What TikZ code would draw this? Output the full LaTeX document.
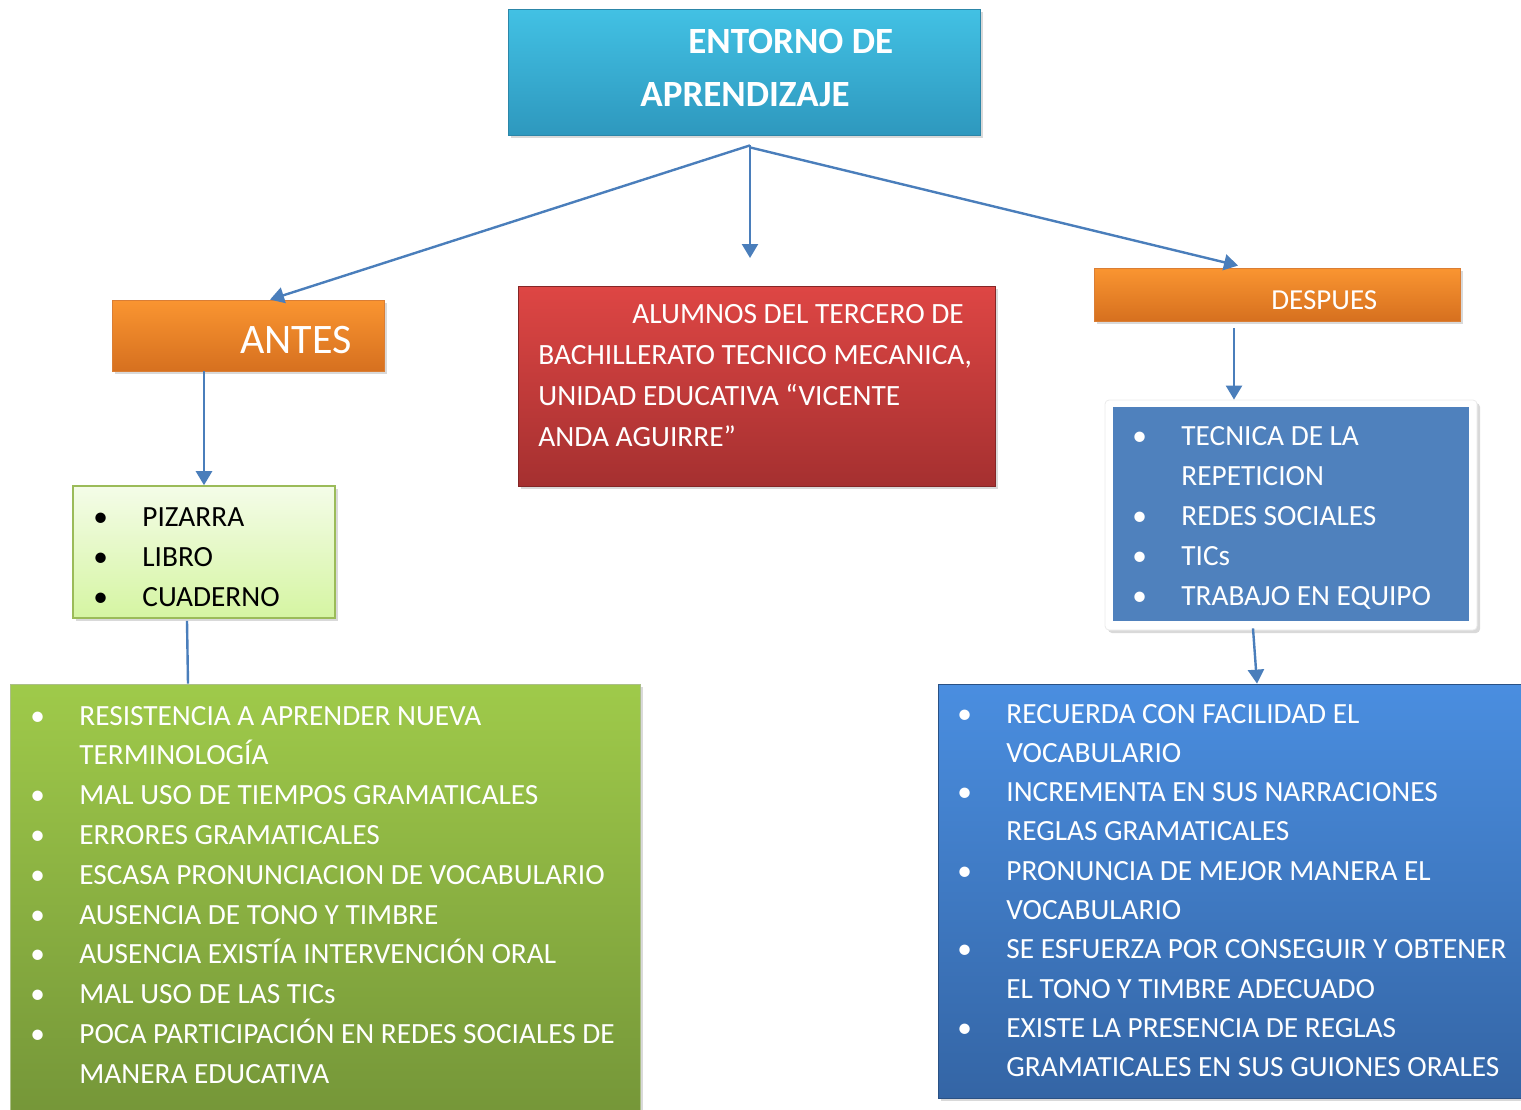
\documentclass[tikz,border=0pt]{standalone}
\usepackage{fontspec}
\setmainfont{Carlito}
\usepackage{tikz}
\usetikzlibrary{positioning,fit,shadows,arrows.meta}

\definecolor{cyantop}{HTML}{42C1E4}
\definecolor{cyanbot}{HTML}{2E98BE}
\definecolor{cyanline}{HTML}{2C86A8}
\definecolor{orangetop}{HTML}{FA9531}
\definecolor{orangebot}{HTML}{D6701F}
\definecolor{redtop}{HTML}{DE4644}
\definecolor{redbot}{HTML}{A53030}
\definecolor{lgreentop}{HTML}{F4FCE8}
\definecolor{lgreenbot}{HTML}{D5F5A2}
\definecolor{lgreenline}{HTML}{9BBB59}
\definecolor{listblue}{HTML}{4F81BD}
\definecolor{greentop}{HTML}{9FCA4A}
\definecolor{greenbot}{HTML}{749538}
\definecolor{bluetop}{HTML}{4A8EE0}
\definecolor{bluebot}{HTML}{3465A5}
\definecolor{arrowblue}{HTML}{4A7EBB}

\newcommand{\bul}{\textbullet}

\begin{document}
\begin{tikzpicture}[x=0.5pt,y=-0.5pt]

    % Styles for boxes, texts and connectors
    \tikzstyle{box} = [rectangle, inner sep=0pt, drop shadow={opacity=0.3, shadow xshift=1.5pt, shadow yshift=-1.5pt}]
    \tikzstyle{txt} = [inner sep=0pt, text=white, anchor=base west]
    \tikzstyle{listfont} = [font=\fontsize{14.65}{20}\selectfont]
    \tikzstyle{conn} = [draw=arrowblue, line width=1.2pt]
    \tikzstyle{arr} = [conn, -{Triangle[width=8pt,length=7pt]}]

    \useasboundingbox (0,0) rectangle (1521,1109);
    \clip (0,0) rectangle (1521,1109);

    % Define nodes
    \node[box, top color=cyantop, bottom color=cyanbot, draw=cyanline, fit={(508,9) (980,135)}] (entorno) {};
    \node[txt, font=\fontsize{18.5}{26.5}\selectfont\bfseries] (entornoT) at (640,53)
        {\begin{tabular}[t]{@{}l@{}}\hspace*{24pt}ENTORNO DE\\APRENDIZAJE\end{tabular}};

    \node[box, top color=orangetop, bottom color=orangebot, draw=orangebot!90, fit={(112,300) (384,371)}] (antes) {};
    \node[txt, font=\fontsize{21}{25}\selectfont] (antesT) at (240,353) {ANTES};

    \node[box, top color=redtop, bottom color=redbot, draw=redbot!80!black, fit={(518,286) (995,486)}] (alumnos) {};
    \node[txt, font=\fontsize{14.7}{20.5}\selectfont] (alumnosT) at (538,323)
        {\begin{tabular}[t]{@{}l@{}}\hspace*{47pt}ALUMNOS DEL TERCERO DE\\BACHILLERATO TECNICO MECANICA,\\UNIDAD EDUCATIVA “VICENTE\\ANDA AGUIRRE”\end{tabular}};

    \node[box, top color=orangetop, bottom color=orangebot, draw=orangebot!90, fit={(1094,268) (1460,321)}] (despues) {};
    \node[txt, font=\fontsize{14.5}{18}\selectfont] (despuesT) at (1271,309) {DESPUES};

    \node[box, top color=lgreentop, bottom color=lgreenbot, draw=lgreenline, line width=0.8pt, fit={(73,486) (335,618)}] (recursos) {};
    \node[txt, listfont, text=black] (recursosT) at (93,526)
        {\begin{tabular}[t]{@{}p{24.5pt}@{}l@{}}\bul & PIZARRA\\\bul & LIBRO\\\bul & CUADERNO\end{tabular}};

    \node[box, fill=white, draw=black!8, rounded corners=2pt, fit={(1105,400) (1477,630)}] (tecnicas) {};
    \node[rectangle, inner sep=0pt, fill=listblue, fit={(1113,407) (1469,621)}] (tecnicasin) {};
    \node[txt, listfont] (tecnicasT) at (1132,445)
        {\begin{tabular}[t]{@{}p{24.5pt}@{}l@{}}\bul & TECNICA DE LA\\ & REPETICION\\\bul & REDES SOCIALES\\\bul & TICs\\\bul & TRABAJO EN EQUIPO\end{tabular}};

    \node[box, top color=greentop, bottom color=greenbot, draw=greenbot!60, fit={(10,684) (640,1125)}] (problemas) {};
    \node[txt, font=\fontsize{14.65}{19.9}\selectfont] (problemasT) at (30,725)
        {\begin{tabular}[t]{@{}p{24.5pt}@{}l@{}}
        \bul & RESISTENCIA A APRENDER NUEVA\\
             & TERMINOLOGÍA\\
        \bul & MAL USO DE TIEMPOS GRAMATICALES\\
        \bul & ERRORES GRAMATICALES\\
        \bul & ESCASA PRONUNCIACION DE VOCABULARIO\\
        \bul & AUSENCIA DE TONO Y TIMBRE\\
        \bul & AUSENCIA EXISTÍA INTERVENCIÓN ORAL\\
        \bul & MAL USO DE LAS TICs\\
        \bul & POCA PARTICIPACIÓN EN REDES SOCIALES DE\\
             & MANERA EDUCATIVA
        \end{tabular}};

    \node[box, top color=bluetop, bottom color=bluebot, draw=bluebot!80!black, fit={(938,684) (1540,1098)}] (logros) {};
    \node[txt, font=\fontsize{14.65}{19.65}\selectfont] (logrosT) at (957,723)
        {\begin{tabular}[t]{@{}p{24.5pt}@{}l@{}}
        \bul & RECUERDA CON FACILIDAD EL\\
             & VOCABULARIO\\
        \bul & INCREMENTA EN SUS NARRACIONES\\
             & REGLAS GRAMATICALES\\
        \bul & PRONUNCIA DE MEJOR MANERA EL\\
             & VOCABULARIO\\
        \bul & SE ESFUERZA POR CONSEGUIR Y OBTENER\\
             & EL TONO Y TIMBRE ADECUADO\\
        \bul & EXISTE LA PRESENCIA DE REGLAS\\
             & GRAMATICALES EN SUS GUIONES ORALES
        \end{tabular}};

    \coordinate (centro) at (750,258);

    % Connect nodes
    \draw[arr] ([xshift=3pt,yshift=-5pt]entorno.south) -- ([xshift=11pt]antes.north);
    \draw[arr] ([xshift=3pt,yshift=-5pt]entorno.south) -- (centro);
    \draw[arr] ([xshift=3pt,yshift=-6pt]entorno.south) -- ([xshift=-19.5pt,yshift=1pt]despues.north);
    \draw[arr] ([xshift=-22pt]antes.south) -- (recursos.north);
    \draw[arr] ([xshift=-21.5pt,yshift=-3.5pt]despues.south) -- ([xshift=-28.5pt]tecnicas.north);
    \draw[conn] ([xshift=-8.5pt,yshift=-1pt]recursos.south) -- ([xshift=-68.5pt]problemas.north);
    \draw[arr] ([xshift=-19pt,yshift=1pt]tecnicas.south) -- ([xshift=9pt]logros.north);

\end{tikzpicture}
\end{document}
